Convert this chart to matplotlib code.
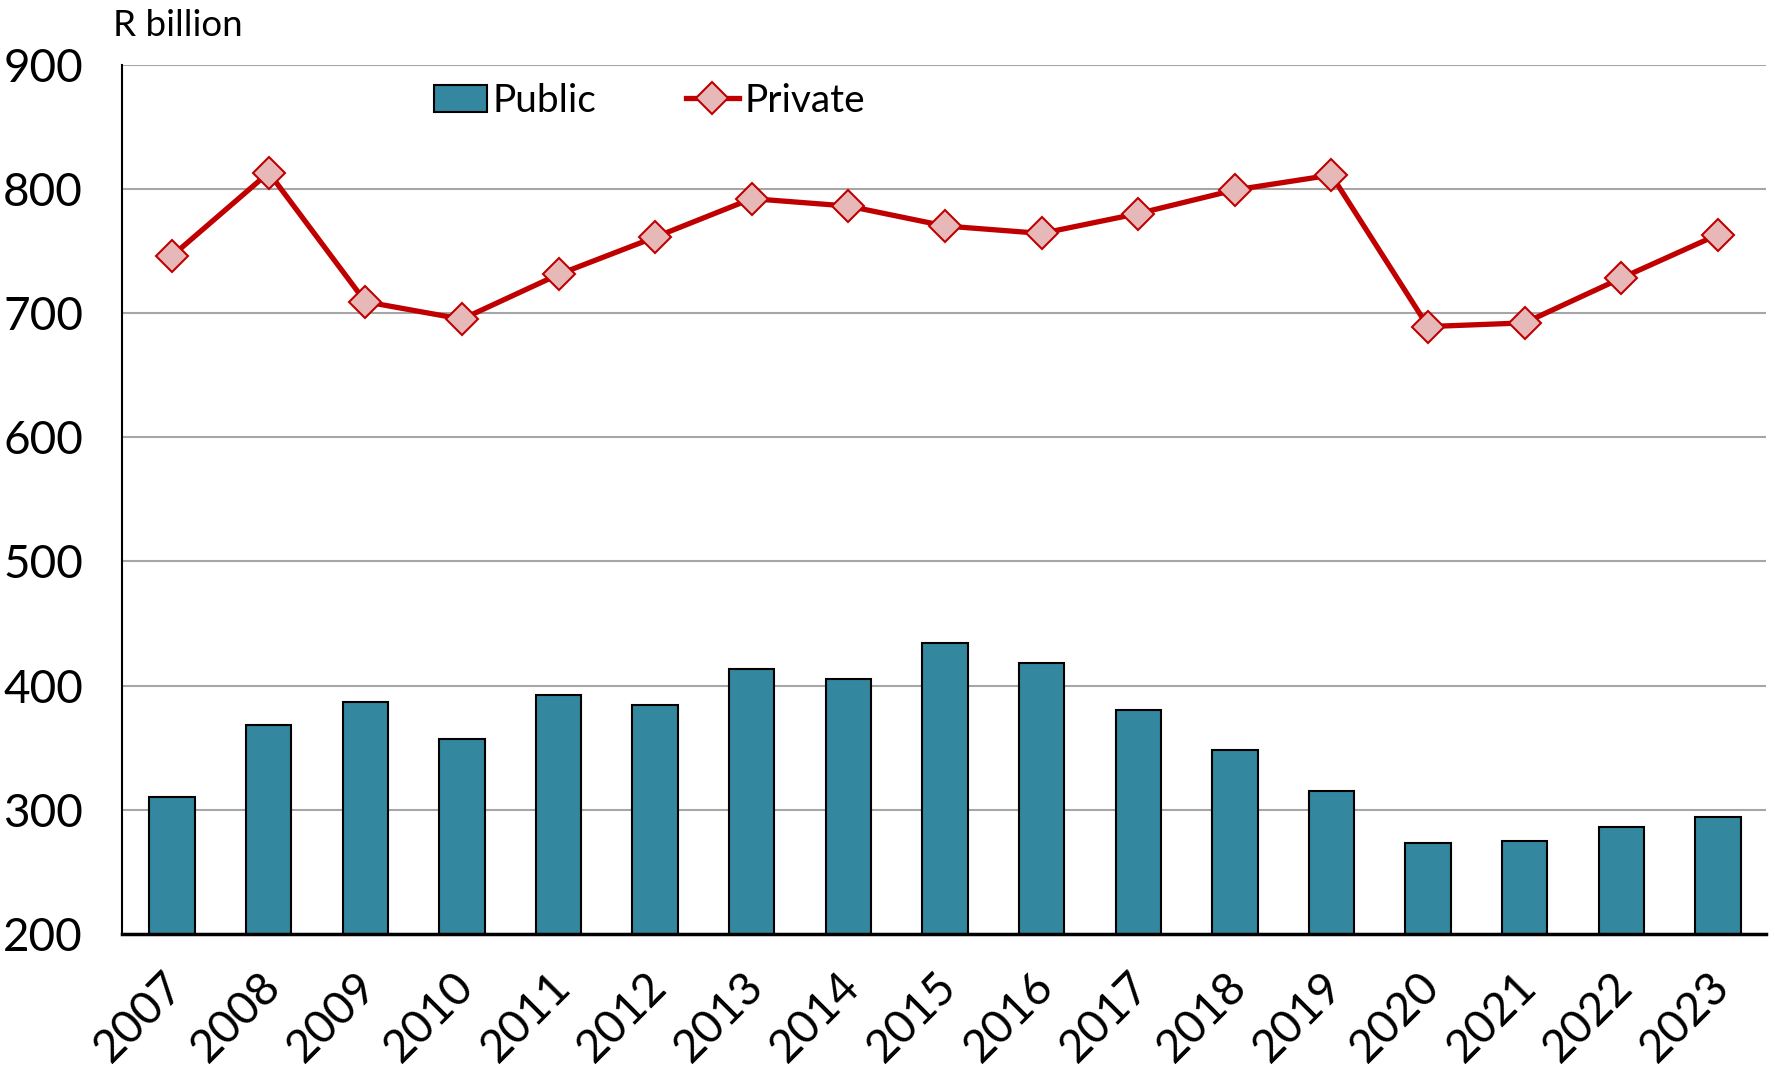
import numpy as np
import matplotlib.pyplot as plt
import matplotlib.transforms as mtransforms

plt.rcParams['font.family'] = ['Lato', 'DejaVu Sans']

years = ['2007', '2008', '2009', '2010', '2011', '2012', '2013', '2014', '2015',
         '2016', '2017', '2018', '2019', '2020', '2021', '2022', '2023']
public = [310, 368, 387, 357, 392, 384, 413, 405, 434, 418, 380, 348, 315, 273, 275, 286, 294]
private = [746, 813, 709, 695, 731, 761, 792, 786, 770, 764, 780, 799, 811, 689, 692, 728, 763]

x = np.arange(len(years))

fig = plt.figure(figsize=(17.75, 10.68), dpi=100)
ax = fig.add_axes([0.0687, 0.1255, 0.9263, 0.8141])

bars = ax.bar(x, public, width=0.47, color='#33879E', edgecolor='black',
              linewidth=1.5, label='Public', zorder=2)
line, = ax.plot(x, private, color='#C00000', lw=3.8, marker='D', ms=16,
                markerfacecolor='#E6B9B8', markeredgecolor='#C00000', markeredgewidth=1.5,
                label='Private', zorder=3)

ax.set_ylim(200, 900)
ax.set_xlim(-0.52, 16.5)
ax.set_yticks(range(200, 901, 100))
ax.set_xticks(x)
ax.set_xticklabels(years, rotation=45, ha='right', rotation_mode='anchor')
ax.tick_params(axis='both', length=0, labelsize=33)
ax.tick_params(axis='y', pad=28)
ax.tick_params(axis='x', pad=22)
# nudge the rotated year labels a little to the left
shift = mtransforms.ScaledTranslation(-0.10, 0, fig.dpi_scale_trans)
for lab in ax.get_xticklabels():
    lab.set_transform(lab.get_transform() + shift)
ax.grid(axis='y', color='#A6A6A6', lw=1.5, zorder=0)
ax.set_axisbelow(True)
for s in ['top', 'right']:
    ax.spines[s].set_visible(False)
ax.spines['left'].set_linewidth(1.5)
ax.spines['bottom'].set_linewidth(2.5)

ax.text(113 / 1775, 1 - 25 / 1068, 'R billion', transform=fig.transFigure,
        fontsize=26.5, va='center', ha='left')

ax.legend([bars, line], ['Public', 'Private'], loc='center',
          bbox_to_anchor=(0.321, 0.958), ncol=2, frameon=False,
          fontsize=28, columnspacing=2.3, handlelength=1.35, handletextpad=0.15,
          handleheight=0.7)

fig.savefig('out.png', dpi=100)
